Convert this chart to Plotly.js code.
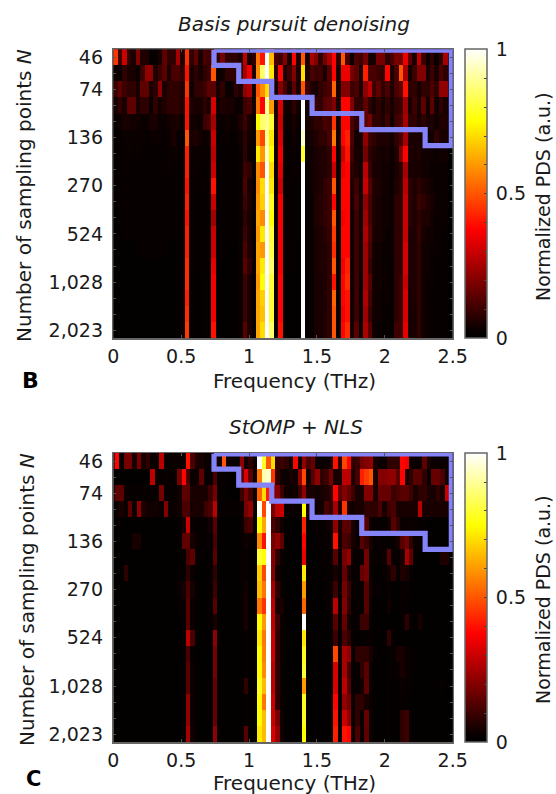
<!DOCTYPE html>
<html><head><meta charset="utf-8">
<script src="https://cdn.plot.ly/plotly-3.0.0.min.js"></script>
<style>html,body{margin:0;padding:0;background:#fff}</style></head>
<body><div id="chart" style="width:556px;height:794px"></div>
<script>
const tickLabels = ["46","","74","","","136","","","270","","","524","","","1,028","","","2,023"];
const rowIndex = [0,1,2,3,4,5,6,7,8,9,10,11,12,13,14,15,16,17];
const freqTicks = [0,0.5,1,1.5,2,2.5];
const freqTickText = ["0","0.5","1","1.5","2","2.5"];
const stairFreq = [0.742,2.49,2.49,2.297,2.297,1.83,1.83,1.464,1.464,1.167,1.167,0.924,0.924,0.742,0.742];
const stairRow = [-0.45,-0.45,5.5,5.5,4.5,4.5,3.5,3.5,2.5,2.5,1.5,1.5,0.5,0.5,-0.45];
const barVals = [0,10,20,30,40,50,60,70,80,90,100];
const barText = ["\u20090","","","","","\u20090.5","","","","","\u20091"];
const basisPursuit = [
[45,10,30,8,5,20,6,6,2,2, 5,15,8,8,25,6,45,8,15,5, 12,10,20,8,18,8,8,8,6,28, 5,8,55,40,100,65,12,10,20,5, 38,5,50,5,25,20,8,18,25,38, 8,50,12,3,12,10,18,5,5,18, 18,8,12,18,18,35,15,5,28,10, 3,8,3,8,25,0],
[3,3,8,5,5,3,10,22,22,6, 10,14,5,12,12,8,40,5,8,5, 8,10,50,3,4,8,8,8,8,25, 35,5,58,85,100,72,8,38,5,10, 20,5,70,5,12,10,10,5,14,38, 5,35,35,18,15,5,42,12,12,10, 8,38,5,12,50,25,4,10,20,20, 5,10,5,12,8,0],
[10,15,10,8,8,5,15,15,5,8, 22,5,8,8,8,6,45,4,8,8, 10,15,14,5,8,3,3,8,5,22, 25,4,50,58,70,40,5,20,12,5, 15,5,50,10,6,5,8,10,12,52, 5,20,20,10,12,5,22,28,10,15, 8,12,6,12,15,40,8,8,5,8, 8,12,8,22,22,0],
[5,8,5,15,15,5,8,8,3,8, 4,6,8,8,8,6,40,6,5,5, 8,5,32,4,6,5,5,3,3,10, 12,4,55,38,90,60,5,32,4,4, 8,4,100,4,8,10,8,14,15,20, 5,38,38,20,8,8,15,8,5,8, 5,8,5,8,10,24,5,10,5,15, 4,15,4,8,5,0],
[3,3,5,5,4,4,3,3,5,5, 3,3,4,5,5,3,40,4,4,3, 10,12,25,3,3,4,3,3,6,10, 5,3,75,85,90,80,6,30,3,3, 5,3,100,5,6,8,8,12,10,45, 4,38,38,12,8,5,15,18,8,8, 6,10,4,10,12,25,8,8,5,8, 5,6,4,6,6,0],
[2,2,3,3,3,3,3,2,3,3, 3,2,3,5,3,2,50,5,6,4, 3,4,30,2,2,3,2,2,4,8, 4,2,60,48,90,72,4,32,2,2, 4,2,95,4,5,6,8,8,12,55, 4,38,42,12,4,5,22,10,8,6, 6,6,4,8,12,25,6,5,5,5, 4,4,8,5,5,0],
[2,2,2,3,2,3,2,2,2,2, 2,2,3,3,3,2,42,3,3,3, 3,3,28,2,2,2,2,2,3,8, 3,2,72,60,95,75,4,35,2,2, 3,2,80,3,4,5,6,6,8,38, 3,30,40,10,5,4,18,8,6,5, 4,5,3,6,20,38,6,5,6,4, 4,4,3,4,4,0],
[2,2,2,2,2,2,2,2,2,2, 2,2,3,2,2,2,42,3,3,2, 2,3,30,2,2,2,2,2,3,10, 8,2,58,50,100,70,3,33,2,2, 3,2,100,3,4,5,6,6,8,30, 3,35,38,8,6,4,28,10,5,5, 4,4,3,5,8,25,5,5,5,4, 4,3,3,3,3,0],
[2,2,2,2,2,2,2,2,2,2, 2,2,2,2,2,2,40,3,2,2, 3,2,40,2,2,2,2,2,3,12, 5,2,58,70,100,72,3,30,2,2, 2,2,100,2,4,5,6,8,10,50, 3,38,38,6,10,4,30,14,6,6, 4,4,3,6,8,28,8,6,8,6, 5,4,3,3,3,0],
[2,2,2,2,2,2,2,2,2,2, 2,2,2,2,2,2,42,3,2,2, 2,3,30,2,2,2,2,2,3,10, 6,2,60,68,100,78,3,36,2,2, 2,2,100,2,3,6,7,8,10,38, 3,38,38,5,12,4,22,12,6,5, 4,4,3,8,8,30,8,6,10,8, 6,5,3,3,3,0],
[1,2,2,2,2,2,2,2,2,2, 2,2,2,2,2,2,40,3,2,2, 2,2,24,2,2,2,2,2,3,8, 5,2,62,58,100,75,3,36,2,2, 2,2,100,2,3,6,7,8,10,50, 3,36,38,4,10,4,24,12,6,5, 4,4,3,8,8,30,8,6,8,6, 6,4,3,3,3,0],
[1,1,2,2,2,2,2,2,2,2, 2,2,2,2,2,2,42,3,2,2, 2,2,30,2,2,2,2,2,3,10, 5,2,60,72,100,80,3,36,2,2, 2,2,100,2,3,5,6,7,9,46, 3,38,38,4,10,4,26,14,5,5, 4,3,3,8,8,30,6,6,9,5, 4,4,3,2,2,0],
[1,1,1,1,1,2,2,2,2,2, 2,2,1,1,2,2,42,3,2,2, 2,2,30,2,2,1,1,1,3,12, 6,2,62,60,100,82,3,36,2,2, 2,1,100,2,3,5,6,6,8,44, 2,38,38,4,10,4,24,12,4,4, 3,3,3,8,8,32,6,6,8,4, 4,3,3,2,2,0],
[1,1,1,1,1,1,1,1,1,1, 1,1,1,1,2,2,44,3,2,2, 2,2,34,2,1,1,1,1,3,14, 8,2,62,72,100,85,3,36,2,2, 2,1,100,2,3,5,6,6,8,50, 2,36,42,4,10,4,24,10,4,4, 3,3,2,8,8,32,6,6,8,4, 4,3,2,2,2,0],
[1,1,1,1,1,1,1,1,1,1, 1,1,1,1,2,2,44,2,1,1, 2,2,36,2,1,1,1,1,3,10, 5,2,60,75,100,80,3,38,1,1, 1,1,100,2,2,5,5,6,8,40, 2,38,44,4,10,3,24,14,4,4, 3,3,2,8,10,30,6,6,8,4, 3,3,2,2,2,0],
[1,1,1,1,1,1,1,1,1,1, 1,1,1,1,2,2,42,2,1,1, 2,2,36,2,1,1,1,1,3,10, 5,2,62,68,100,80,3,38,1,1, 1,1,100,2,2,5,5,6,8,52, 2,38,40,4,10,3,26,12,4,4, 2,3,2,8,10,32,5,6,8,4, 3,2,2,2,2,0],
[1,1,1,1,1,1,1,1,1,1, 1,1,1,1,2,2,44,2,1,1, 2,2,36,2,1,1,1,1,3,10, 5,2,62,66,100,80,3,38,1,1, 1,1,100,2,2,5,5,6,8,50, 2,36,40,4,10,3,24,10,4,4, 2,2,2,8,10,32,5,5,8,4, 3,2,2,2,2,0],
[1,1,1,1,1,1,1,1,1,1, 1,1,1,1,2,3,46,2,1,1, 2,2,40,2,1,1,1,1,3,14, 6,2,62,70,100,85,3,40,2,1, 1,1,100,2,2,5,5,6,8,50, 2,38,44,5,14,3,26,14,4,3, 2,2,2,10,10,34,5,5,8,4, 3,2,2,2,2,0]
];
const stompNls = [
[38,2,18,18,5,18,5,8,3,3, 28,3,3,3,3,3,40,12,5,5, 3,3,5,4,50,3,3,3,22,4, 8,4,100,78,50,70,8,10,8,3, 38,3,22,12,16,3,3,3,5,40, 8,48,38,8,10,18,20,22,5,3, 3,8,8,8,38,36,3,3,3,15, 5,3,3,3,3,0],
[1,1,1,1,1,1,1,1,28,3, 2,3,2,3,18,38,12,3,3,15, 2,2,12,2,2,1,1,1,15,32, 15,2,55,92,95,45,8,4,3,5, 4,22,48,4,14,22,8,10,18,5, 5,28,28,5,12,42,46,50,5,20, 20,22,22,14,38,5,8,14,14,8, 2,16,16,12,4,0],
[15,15,3,2,2,2,2,2,2,2, 18,2,2,2,4,15,14,5,5,5, 5,10,18,2,2,1,1,1,10,18, 12,2,52,70,42,22,20,10,4,3, 4,10,22,5,5,4,5,6,8,38, 15,20,16,10,5,5,20,20,5,16, 16,16,10,12,14,14,10,5,8,8, 5,5,8,5,30,0],
[3,5,3,15,3,22,6,4,4,4, 3,20,3,3,4,12,12,5,5,5, 10,12,28,2,2,2,2,2,3,18, 22,2,98,48,100,18,28,30,3,3, 3,3,75,5,4,4,4,12,8,25, 6,45,5,4,5,5,8,8,8,12, 5,10,12,5,5,5,5,5,28,5, 5,5,5,5,5,0],
[1,2,1,1,1,1,1,1,1,1, 1,1,1,1,2,5,30,3,2,2, 2,4,14,1,1,1,1,1,3,10, 12,1,75,62,100,12,8,4,1,1, 1,1,42,1,2,2,2,3,5,22, 5,14,14,5,3,3,14,3,2,2, 2,4,14,8,3,3,3,2,2,2, 1,1,1,1,1,0],
[1,1,1,1,5,5,1,1,1,1, 1,1,1,1,2,15,15,5,2,2, 2,2,12,1,1,1,1,1,2,4, 2,1,58,40,100,18,22,15,1,1, 1,1,38,1,1,2,2,3,3,40, 5,12,10,5,3,14,10,5,2,2, 2,2,2,5,14,18,8,3,2,2, 1,1,1,1,1,0],
[1,1,1,1,1,1,1,1,1,1, 1,1,1,1,1,2,12,15,2,2, 1,2,14,1,1,1,1,1,2,3, 1,1,80,75,100,20,8,3,1,1, 1,1,35,1,1,1,2,2,3,14, 2,18,22,3,2,3,18,3,2,2, 3,14,2,2,5,25,15,2,1,1, 1,1,1,6,6,0],
[1,1,8,1,1,1,1,1,1,1, 1,1,1,1,2,2,8,3,1,1, 1,2,8,1,1,1,1,1,2,3, 1,1,68,48,100,20,4,2,1,1, 1,1,72,1,1,1,1,2,2,5, 2,16,6,2,2,16,18,3,1,1, 2,4,8,2,6,5,2,1,1,1, 1,1,1,1,1,0],
[1,1,1,1,1,1,1,1,1,1, 1,1,1,1,3,5,12,5,1,1, 1,2,10,1,1,1,1,1,2,4, 1,1,65,55,100,25,8,3,1,1, 1,1,60,1,1,1,1,2,3,10, 2,18,10,2,2,3,14,4,2,2, 1,3,1,1,2,3,1,1,1,1, 1,1,1,1,1,0],
[1,1,1,1,1,1,1,1,1,1, 1,1,1,1,2,3,14,3,1,1, 1,2,14,1,1,1,1,1,2,5, 1,1,55,45,100,28,5,5,1,1, 1,1,52,1,1,1,1,2,3,28, 2,20,8,2,2,2,14,3,1,1, 1,4,1,1,2,2,1,1,1,1, 1,1,1,1,1,0],
[1,1,1,1,1,1,1,1,1,1, 1,1,1,1,1,3,14,3,1,1, 1,2,5,1,1,1,1,1,2,5, 1,1,75,60,100,28,10,3,1,1, 1,1,100,1,1,1,1,1,2,14, 2,16,4,2,2,10,10,2,1,1, 1,1,1,1,2,8,2,1,5,1, 1,1,1,1,1,0],
[1,1,1,1,1,1,1,1,1,1, 1,1,1,1,1,2,28,12,1,1, 1,1,22,1,1,1,1,1,1,2, 1,1,72,55,100,30,8,3,1,1, 1,1,72,1,1,1,1,1,2,10, 1,12,8,2,1,2,2,2,1,1, 1,8,2,1,1,1,1,1,1,1, 1,1,1,1,1,0],
[1,1,1,1,1,1,1,1,1,1, 1,1,1,1,1,2,12,2,1,1, 1,1,18,1,1,1,1,1,1,2, 1,1,75,56,100,30,8,3,1,1, 1,1,78,1,1,1,1,1,2,48, 4,25,22,2,8,8,8,5,2,1, 1,2,2,5,5,3,2,1,1,1, 1,1,1,1,1,0],
[1,1,1,1,1,1,1,1,1,1, 1,1,1,1,1,2,14,3,1,1, 1,1,18,1,1,1,1,1,1,2, 1,1,75,58,100,28,8,3,1,1, 1,1,80,1,1,1,1,1,2,32, 2,25,12,2,2,8,14,3,1,1, 1,2,2,3,5,3,2,1,1,1, 1,1,1,1,1,0],
[1,1,1,1,1,1,1,1,1,1, 1,1,1,1,1,2,14,3,1,1, 1,1,16,1,1,1,1,1,2,8, 1,1,78,65,100,28,8,3,1,1, 1,1,60,1,1,1,1,1,2,32, 2,28,14,2,2,4,15,3,1,1, 1,2,1,1,3,2,2,1,1,1, 1,1,1,2,1,0],
[1,1,1,1,1,1,1,1,1,1, 1,1,1,1,1,2,22,3,1,1, 1,1,16,1,1,1,1,1,1,2, 1,1,75,55,100,30,8,3,1,1, 1,1,78,1,1,1,1,1,2,38, 2,22,18,3,8,8,5,3,1,1, 1,2,1,1,2,2,1,1,1,1, 1,1,1,1,1,0],
[1,1,1,1,1,1,1,1,1,1, 1,1,1,1,1,2,22,3,1,1, 1,1,16,1,1,1,1,1,1,2, 1,1,75,65,100,30,18,4,1,1, 1,1,78,1,1,1,1,1,2,40, 2,30,22,3,8,3,16,3,1,1, 1,2,1,1,8,10,2,1,1,1, 1,1,1,1,1,0],
[1,1,1,1,1,1,1,1,1,1, 1,1,1,1,1,2,25,4,1,1, 1,1,22,1,1,1,1,1,2,14, 1,1,72,65,100,32,22,4,1,1, 1,1,75,1,1,1,1,1,2,42, 3,40,38,3,12,3,15,3,1,1, 1,2,1,1,8,10,2,1,1,1, 1,1,1,1,1,0]
];
const hot = [[0,'#000000'],[0.03,'#0a0000'],[0.375,'#ff0000'],[0.75,'#ffff00'],[1,'#ffffff']];
const F = "DejaVu Sans, Verdana, sans-serif";
const INK = '#1a1a1a', FRAME = '#666';
const W=556,H=794;
const cellDf = 2.5/76;
function hm(z,xa,ya,x0,top,bot){
  return {type:'heatmap',z:z,x0:x0,dx:cellDf,y:rowIndex,xaxis:xa,yaxis:ya,colorscale:hot,zmin:0,zmax:100,zsmooth:false,
    colorbar:{x:465/W,xanchor:'left',thickness:22,thicknessmode:'pixels',lenmode:'fraction',len:(bot-top)/H,y:1-(top+bot)/2/H,yanchor:'middle',
      tickmode:'array',tickvals:barVals,ticktext:barText,ticks:'inside',ticklen:3,tickcolor:'#444',outlinecolor:FRAME,outlinewidth:1.5,
      tickfont:{family:F,size:19,color:INK},xpad:0,ypad:0}};
}
function stair(xa,ya){return {type:'scatter',mode:'lines',x:stairFreq,y:stairRow,xaxis:xa,yaxis:ya,cliponaxis:false,hoverinfo:'skip',showlegend:false,
  line:{color:'#8484f8',width:5.2}};}
function ax(top,bot,anchor,isX){
  return isX?{domain:[113.3/W,452.7/W],range:[0,2.5],anchor:anchor,tickvals:freqTicks,ticktext:freqTickText,ticks:'inside',ticklen:3,tickcolor:'#555',mirror:'ticks',
    showline:true,linecolor:FRAME,linewidth:1.5,showgrid:false,zeroline:false,tickfont:{family:F,size:19,color:INK},ticklabelstandoff:0}
  :{domain:[1-bot/H,1-top/H],range:[17.5,-0.5],anchor:anchor,tickvals:rowIndex,ticktext:tickLabels,ticks:'inside',ticklen:3,tickcolor:'#555',mirror:'ticks',
    showline:true,linecolor:FRAME,linewidth:1.5,showgrid:false,zeroline:false,tickfont:{family:F,size:19,color:INK},ticklabelstandoff:5};
}
const ann=(t,x,y,o)=>Object.assign({text:t,x:x/W,y:1-y/H,xref:'paper',yref:'paper',showarrow:false,xanchor:'center',yanchor:'middle',font:{family:F,size:20,color:INK}},o||{});
const data=[hm(basisPursuit,'x','y',cellDf/2,49.3,338.3),stair('x','y'),hm(stompNls,'x2','y2',cellDf/2+0.0098,453,742.3),stair('x2','y2')];
const layout={width:W,height:H,margin:{l:0,r:0,t:0,b:0},paper_bgcolor:'#fff',plot_bgcolor:'#000',showlegend:false,
 xaxis:ax(49.3,338.3,'y',true),yaxis:ax(49.3,338.3,'x',false),
 xaxis2:ax(453,742.3,'y2',true),yaxis2:ax(453,742.3,'x2',false),
 annotations:[
  ann('<i>Basis pursuit denoising</i>',294,24),
  ann('<i>StOMP + NLS</i>',296,427),
  ann('Frequency (THz)',294,381),
  ann('Frequency (THz)',294,783),
  ann('Number of sampling points <i>N</i>',24,196,{textangle:-90}),
  ann('Number of sampling points <i>N</i>',27,600,{textangle:-90}),
  ann('<b>B</b>',30,380,{font:{family:F,size:22,color:'#000'}}),
  ann('<b>C</b>',33,793,{font:{family:F,size:21,color:'#000'},yanchor:'bottom'}),
  ann('Normalized PDS (a.u.)',543,197,{textangle:-90,font:{family:F,size:19,color:INK}}),
  ann('Normalized PDS (a.u.)',543,600,{textangle:-90,font:{family:F,size:19,color:INK}})
 ]};
Plotly.newPlot('chart',data,layout,{displayModeBar:false,staticPlot:true});
</script></body></html>
